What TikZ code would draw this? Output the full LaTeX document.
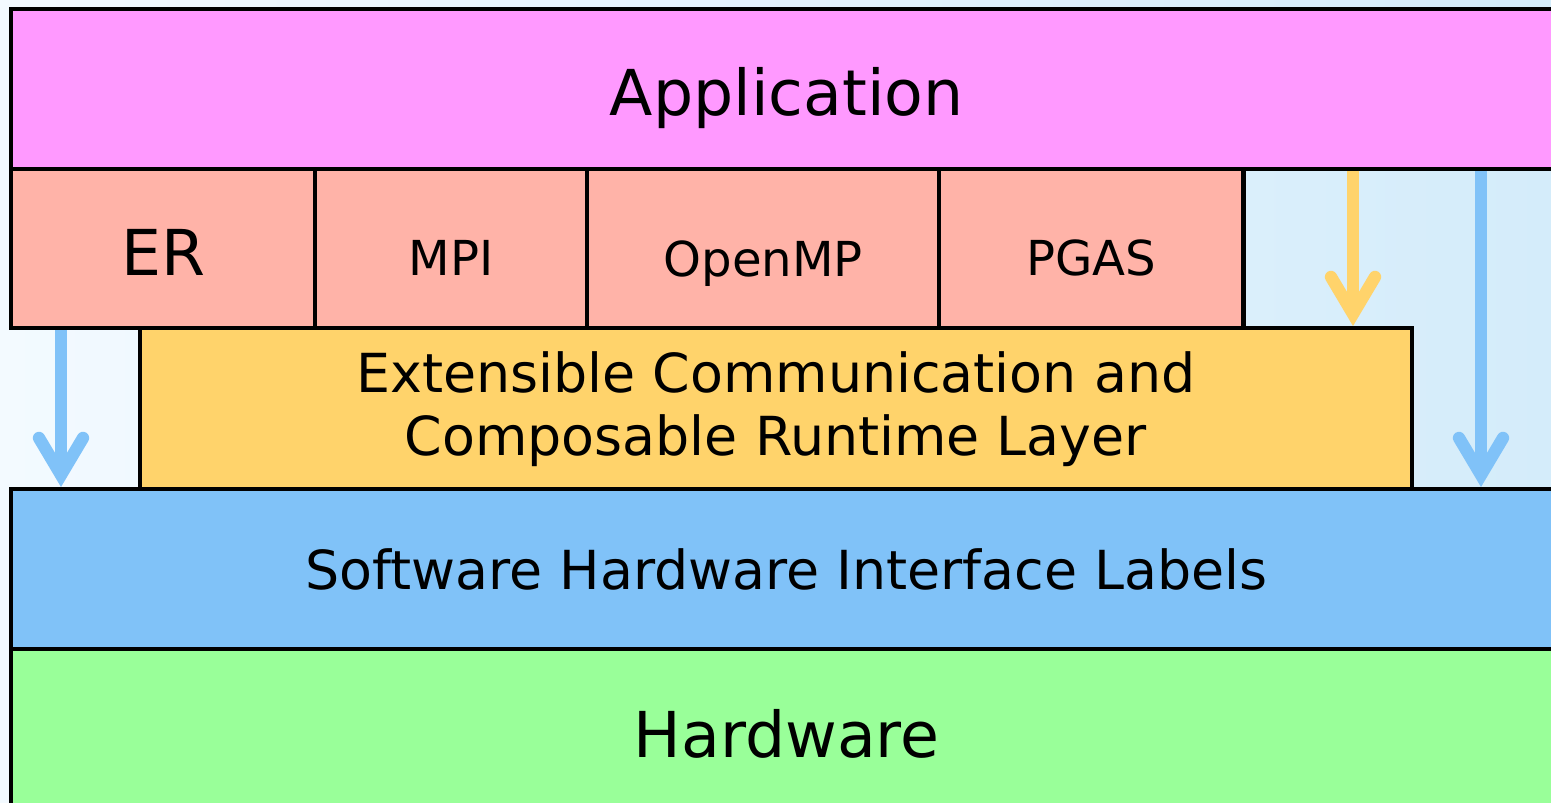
\documentclass[tikz,border=0pt]{standalone}
\usepackage{fontspec}
\setmainfont{DejaVu Sans}
\usepackage{xcolor}
\usetikzlibrary{arrows.meta}
\definecolor{appcol}{RGB}{255,153,255}
\definecolor{modcol}{RGB}{255,179,168}
\definecolor{rtcol}{RGB}{255,211,107}
\definecolor{shicol}{RGB}{128,194,248}
\definecolor{hwcol}{RGB}{153,255,153}
\definecolor{bgleft}{RGB}{243,250,255}
\definecolor{bgright}{RGB}{212,236,250}

\begin{document}
\begin{tikzpicture}[x=0.01cm,y=-0.01cm,
    layer/.style={draw=black,line width=1.25pt,rectangle,inner sep=0pt,anchor=north west},
    bigtxt/.style={font=\fontsize{18}{20}\selectfont,text height=0.53cm,text depth=0pt},
    midtxt/.style={font=\fontsize{15.3}{17.9}\selectfont,align=center},
    smalltxt/.style={font=\fontsize{13.7}{16}\selectfont,text height=0.54cm,text depth=0pt},
    flow/.style={line width=3.5pt,
      -{Straight Barb[length=0.37cm,width=0.44cm,line cap=round]}}]
  \useasboundingbox (0,0) rectangle (1551,803);
  \clip (0,0) rectangle (1551,803);
  \shade[left color=bgleft,right color=bgright] (0,0) rectangle (1551,803);

  \node (app) at (9,7) [layer,fill=appcol,bigtxt,minimum width=15.5cm,minimum height=1.595cm] {Application};
  \node (er) at (9,166.5) [layer,fill=modcol,bigtxt,minimum width=3.04cm,minimum height=1.595cm] {ER};
  \node (mpi) at (313,166.5) [layer,fill=modcol,smalltxt,minimum width=2.72cm,minimum height=1.595cm] {MPI};
  \node (omp) at (585,166.5) [layer,fill=modcol,smalltxt,minimum width=3.52cm,minimum height=1.605cm] {OpenMP};
  \node (pgas) at (937,166.5) [layer,fill=modcol,smalltxt,minimum width=3.04cm,minimum height=1.595cm] {PGAS};
  \node (rt) at (137.5,326) [layer,fill=rtcol,midtxt,minimum width=12.715cm,minimum height=1.61cm]
    {Extensible Communication and\\Composable Runtime Layer};
  \node (shi) at (9,487) [layer,fill=shicol,midtxt,minimum width=15.5cm,minimum height=1.6cm]
    {Software Hardware Interface Labels};
  \node (hw) at (9,647) [layer,fill=hwcol,bigtxt,minimum width=15.5cm,minimum height=1.64cm] {Hardware};

  \coordinate (leftx) at (61,0);
  \coordinate (midx) at (1353,0);
  \coordinate (rightx) at (1481,0);
  \draw[flow,draw=shicol] (er.south -| leftx) -- (shi.north -| leftx);
  \draw[flow,draw=rtcol] (app.south -| midx) -- (rt.north -| midx);
  \draw[flow,draw=shicol] (app.south -| rightx) -- (shi.north -| rightx);
\end{tikzpicture}
\end{document}
